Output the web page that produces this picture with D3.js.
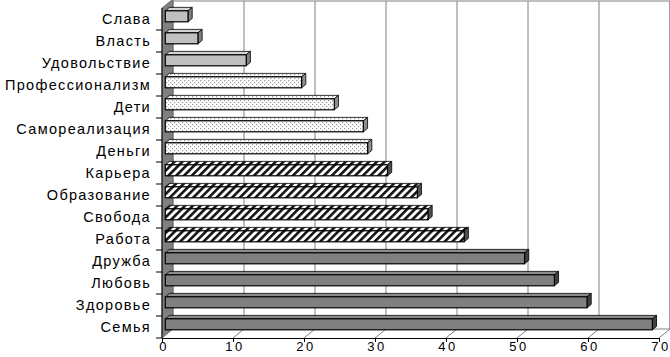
<!DOCTYPE html>
<html>
<head>
<meta charset="utf-8">
<script src="https://cdn.jsdelivr.net/npm/d3@7"></script>
<style>
  body { margin: 0; background: #fff; }
  svg { display: block; font-family: "Liberation Sans", Arial, sans-serif; }
</style>
</head>
<body>
<div id="chart"></div>
<script>
// data, top to bottom
const categories = ["Слава", "Власть", "Удовольствие", "Профессионализм", "Дети",
  "Самореализация", "Деньги", "Карьера", "Образование", "Свобода", "Работа",
  "Дружба", "Любовь", "Здоровье", "Семья"];
const values = [3.2, 4.6, 11.4, 19.2, 23.8, 27.9, 28.5, 31.3, 35.5, 37.0, 42.1, 50.6, 54.8, 59.4, 68.6];
// group of each bar (decides the fill)
const groups = [0, 0, 0, 1, 1, 1, 1, 2, 2, 2, 2, 3, 3, 3, 3];
const xTicks = [0, 10, 20, 30, 40, 50, 60, 70];

const width = 670, height = 357;
const depth = { dx: 11, dy: -9 };       // wall depth
const barOff = 0.3, barDepth = 0.38;    // bar position inside the depth

const svg = d3.select("#chart").append("svg")
  .attr("width", width).attr("height", height);

const y0 = 338, yTop = 8;
const x = d3.scaleLinear().domain([0, 70]).range([162, 659]);
const y = d3.scaleBand().domain(categories).range([yTop, y0]).paddingInner(0.5).paddingOuter(0.25);
const yFull = d3.scaleBand().domain(categories).range([yTop, y0]);

const defs = svg.append("defs");
const hatch = defs.append("pattern").attr("id", "hatch")
  .attr("patternUnits", "userSpaceOnUse").attr("width", 5.5).attr("height", 5.5)
  .attr("patternTransform", "rotate(45)");
hatch.append("rect").attr("width", 5.5).attr("height", 5.5).attr("fill", "#fff");
hatch.append("rect").attr("width", 2.6).attr("height", 5.5).attr("fill", "#111");

const dots = defs.append("pattern").attr("id", "dots")
  .attr("patternUnits", "userSpaceOnUse").attr("width", 4).attr("height", 4);
dots.append("rect").attr("width", 4).attr("height", 4).attr("fill", "#fff");
dots.append("rect").attr("x", 0).attr("y", 0).attr("width", 1.2).attr("height", 1.2).attr("fill", "#999");
dots.append("rect").attr("x", 2).attr("y", 2).attr("width", 1.2).attr("height", 1.2).attr("fill", "#999");

const fills = [
  { front: "#c0c0c0", top: "#d4d4d4", side: "#808080" },
  { front: "url(#dots)", top: "url(#dots)", side: "#909090" },
  { front: "url(#hatch)", top: "url(#hatch)", side: "#505050" },
  { front: "#808080", top: "#8c8c8c", side: "#404040" }
];

const poly = pts => pts.map(p => p.join(",")).join(" ");

// back wall
svg.append("rect")
  .attr("x", x(0) + depth.dx).attr("y", 1)
  .attr("width", x(70) - x(0)).attr("height", y0 + depth.dy - 1)
  .attr("fill", "#fff").attr("stroke", "#808080");

// gridlines on back wall
svg.append("g").selectAll("line").data(xTicks.slice(1)).join("line")
  .attr("x1", d => x(d) + depth.dx).attr("x2", d => x(d) + depth.dx)
  .attr("y1", 1).attr("y2", y0 + depth.dy)
  .attr("stroke", "#808080");

// floor lines
svg.append("g").selectAll("line").data(xTicks.slice(1)).join("line")
  .attr("x1", d => x(d)).attr("x2", d => x(d) + depth.dx)
  .attr("y1", y0).attr("y2", y0 + depth.dy)
  .attr("stroke", "#808080");

// left wall
svg.append("polygon")
  .attr("points", poly([[x(0), yTop], [x(0) + depth.dx, yTop + depth.dy],
    [x(0) + depth.dx, y0 + depth.dy], [x(0), y0]]))
  .attr("fill", "#808080").attr("stroke", "#555").attr("stroke-width", 0.7);

// bars
const bars = svg.append("g").selectAll("g").data(categories).join("g");
bars.each(function (c, i) {
  const g = d3.select(this);
  const f = fills[groups[i]];
  const ox = depth.dx * barOff, oy = depth.dy * barOff;
  const bx = depth.dx * barDepth, by = depth.dy * barDepth;
  const xa = x(0) + ox, xb = x(values[i]) + ox;
  const ya = y(c) + oy, yb = y(c) + y.bandwidth() + oy;
  // top face
  g.append("polygon")
    .attr("points", poly([[xa, ya], [xa + bx, ya + by], [xb + bx, ya + by], [xb, ya]]))
    .attr("fill", f.top).attr("stroke", "#000").attr("stroke-width", 0.8);
  // side face
  g.append("polygon")
    .attr("points", poly([[xb, ya], [xb + bx, ya + by], [xb + bx, yb + by], [xb, yb]]))
    .attr("fill", f.side).attr("stroke", "#000").attr("stroke-width", 0.8);
  // front face
  g.append("rect")
    .attr("x", xa).attr("y", ya).attr("width", xb - xa).attr("height", yb - ya)
    .attr("fill", f.front).attr("stroke", "#000").attr("stroke-width", 1.2);
});

// bottom axis
const xAxis = svg.append("g")
  .attr("transform", `translate(0,${y0})`)
  .call(d3.axisBottom(x).tickValues(xTicks).tickSize(4).tickPadding(0).tickSizeOuter(0));
xAxis.select(".domain").attr("stroke", "#000");
xAxis.selectAll("text").attr("font-size", 13).attr("fill", "#000")
  .attr("font-family", "Liberation Sans, Arial, sans-serif").style("letter-spacing", "2.5px")
  .attr("dx", 1.5);

// left axis: labels at band centres, ticks at band edges
const yAxis = svg.append("g")
  .attr("transform", `translate(${x(0)},0)`)
  .call(d3.axisLeft(yFull).tickSize(0).tickPadding(11));
yAxis.select(".domain").remove();
yAxis.selectAll("text").attr("font-size", 14.5).attr("fill", "#000")
  .attr("font-family", "Liberation Sans, Arial, sans-serif").style("letter-spacing", "1.3px");

svg.append("line").attr("x1", x(0)).attr("x2", x(0)).attr("y1", yTop).attr("y2", y0)
  .attr("stroke", "#000");
svg.append("g").selectAll("line").data(categories.slice(1).concat(["__end"])).join("line")
  .attr("x1", x(0) - 6).attr("x2", x(0))
  .attr("y1", (d, i) => i < categories.length - 1 ? yFull(d) : y0)
  .attr("y2", (d, i) => i < categories.length - 1 ? yFull(d) : y0)
  .attr("stroke", "#000");
</script>
</body>
</html>
